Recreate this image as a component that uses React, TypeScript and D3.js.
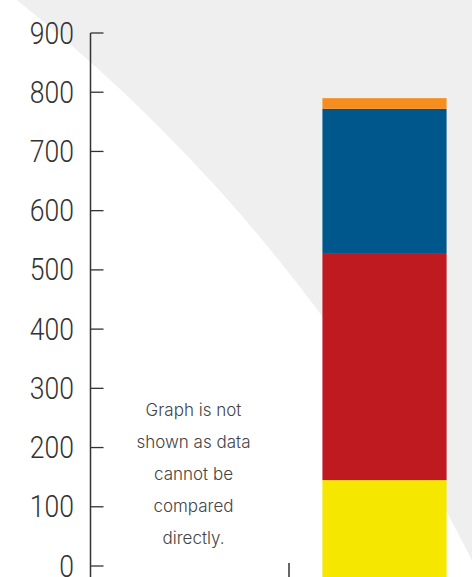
import React from "react";
import * as d3 from "d3";

const categories = ["note", "bar"];
const seriesNames = ["Yellow", "Red", "Blue", "Orange"];
const seriesValues = [145, 382, 245, 18];
const seriesColors = ["#F5E700", "#BE1A20", "#00578B", "#F68E1F"];
const yTicks = [0, 100, 200, 300, 400, 500, 600, 700, 800, 900];
const noteLines = ["Graph is not", "shown as data", "cannot be", "compared", "directly."];

const W = 472;
const H = 577;

export default function App() {
  const y = d3.scaleLinear().domain([0, 900]).range([566, 33]);
  const x = d3.scaleBand<string>().domain(categories).range([98, 480]).padding(0);
  const row: Record<string, number> = {};
  seriesNames.forEach((n, i) => (row[n] = seriesValues[i]));
  const stack = d3.stack<Record<string, number>>().keys(seriesNames)([row]);
  const bw = x.bandwidth();
  const barW = bw * 0.65;
  const barX = (x("bar") as number) + (bw - barW) / 2;
  const noteCx = (x("note") as number) + bw / 2;
  const axisX = 90.5;

  return (
    <div style={{ position: "fixed", left: 0, top: 0, width: W, height: H }}>
      <svg width={W} height={H} style={{ display: "block" }}>
        <rect x={0} y={0} width={W} height={H} fill="#efefef" />
        <circle cx={-1022} cy={1309} r={1671} fill="#ffffff" />
        {stack.map((s, i) => {
          const top = y(s[0][1]);
          const bottom = s[0][0] === 0 ? H + 5 : y(s[0][0]);
          return (
            <rect
              key={seriesNames[i]}
              x={barX}
              width={barW}
              y={top}
              height={bottom - top}
              fill={seriesColors[i]}
            />
          );
        })}
        <line x1={axisX} x2={axisX} y1={y(900)} y2={H + 5} stroke="#333" strokeWidth={1.5} />
        {yTicks.map((t) => (
          <g key={t}>
            <line x1={axisX} x2={axisX + 13} y1={y(t)} y2={y(t)} stroke="#333" strokeWidth={1.3} />
            <text
              transform={`translate(74, ${y(t) + 10.5}) scale(0.83, 1)`}
              textAnchor="end"
              fontFamily="Roboto"
              fontWeight={300}
              fontSize={32}
              fill="#333"
            >
              {t}
            </text>
          </g>
        ))}
        <line x1={x("bar") as number} x2={x("bar") as number} y1={563} y2={H + 5} stroke="#333" strokeWidth={1.5} />
        {noteLines.map((l, i) => (
          <text
            key={i}
            x={noteCx}
            y={416 + i * 32}
            textAnchor="middle"
            fontFamily="Inter"
            fontWeight={300}
            fontSize={17}
            fill="#444"
          >
            {l}
          </text>
        ))}
      </svg>
    </div>
  );
}
